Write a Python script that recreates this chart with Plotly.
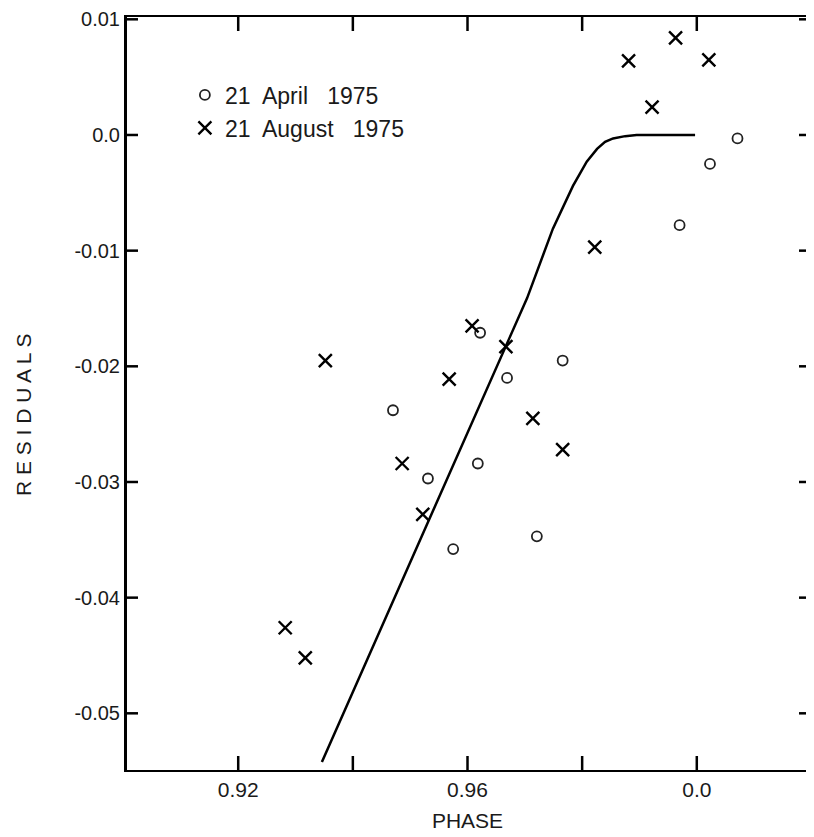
import plotly.graph_objects as go

# 21 April 1975 (open circles)
april_phase = [0.9470, 0.9531, 0.9575, 0.9618, 0.9622, 0.9669, 0.9721, 0.9766, 0.9970, 1.0023, 1.0071]
april_resid = [-0.0238, -0.0297, -0.0358, -0.0284, -0.0171, -0.0210, -0.0347, -0.0195, -0.0078, -0.0025, -0.0003]

# 21 August 1975 (crosses)
august_phase = [0.9282, 0.9317, 0.9352, 0.9486, 0.9522, 0.9568, 0.9608, 0.9667, 0.9714, 0.9766,
                0.9822, 0.9881, 0.9922, 0.9963, 1.0021]
august_resid = [-0.0426, -0.0452, -0.0195, -0.0284, -0.0328, -0.0211, -0.0165, -0.0183, -0.0245, -0.0272,
                -0.0097, 0.0064, 0.0024, 0.0084, 0.0065]

# model curve
model_phase = [0.9346, 0.9704, 0.9749, 0.9770, 0.9784, 0.9808, 0.9826, 0.9840, 0.9854, 0.9875, 0.9895, 0.9997]
model_resid = [-0.0542, -0.0141, -0.0081, -0.0058, -0.0044, -0.0023, -0.0012, -0.0006, -0.0003, -0.0001, 0.0, 0.0]

x_tickvals = [0.92, 0.94, 0.96, 0.98, 1.00]
x_ticktext = ["0.92", "", "0.96", "", "0.0"]
y_tickvals = [0.01, 0.0, -0.01, -0.02, -0.03, -0.04, -0.05]
y_ticktext = ["0.01", "0.0", "-0.01", "-0.02", "-0.03", "-0.04", "-0.05"]

FONT = "Liberation Sans"
INK = "#1a1a1a"

fig = go.Figure()
fig.add_trace(go.Scatter(
    x=model_phase, y=model_resid, mode="lines",
    line=dict(color="black", width=2.5),
    showlegend=False, hoverinfo="skip"))
fig.add_trace(go.Scatter(
    x=april_phase, y=april_resid, mode="markers", name="21  April   1975",
    marker=dict(symbol="circle-open", size=10, color="#222", line=dict(width=1.8))))
fig.add_trace(go.Scatter(
    x=august_phase, y=august_resid, mode="markers", name="21  August   1975",
    marker=dict(symbol="x-thin", size=13, color="black", line=dict(width=2.4, color="black"))))

# inward tick marks on all four sides, placed at the axis tick values
PLOT_W, PLOT_H = 681, 753
for v in x_tickvals:
    for y0, y1 in ((0, 14 / PLOT_H), (1, 1 - 14 / PLOT_H)):
        fig.add_shape(type="line", xref="x", yref="paper", x0=v, x1=v, y0=y0, y1=y1,
                      line=dict(color="black", width=2.5), layer="above")
for v in y_tickvals:
    for x0, x1 in ((0, 11 / PLOT_W), (1, 1 - 9 / PLOT_W)):
        fig.add_shape(type="line", xref="paper", yref="y", x0=x0, x1=x1, y0=v, y1=v,
                      line=dict(color="black", width=2.5), layer="above")

# the page body adds an 8 px margin, so the figure is sized/offset for that
fig.update_layout(
    width=806, height=829,
    margin=dict(l=119, r=6, t=9, b=67),
    paper_bgcolor="white", plot_bgcolor="white",
    font=dict(family=FONT, size=20, color=INK),
    legend=dict(x=0.085, y=0.925, xanchor="left", yanchor="top",
                bgcolor="rgba(0,0,0,0)", font=dict(size=23, family=FONT, color=INK),
                itemwidth=30, tracegroupgap=0),
    xaxis=dict(range=[0.9006, 1.0194], tickvals=x_tickvals, ticktext=x_ticktext,
               ticks="", showline=True, linecolor="black", linewidth=2, mirror=True,
               showgrid=False, zeroline=False, automargin=False,
               tickfont=dict(size=21, family=FONT, color=INK),
               title=dict(text="PHASE", font=dict(size=21, family=FONT, color=INK), standoff=13)),
    yaxis=dict(range=[-0.0549, 0.0102], tickvals=y_tickvals, ticktext=y_ticktext,
               ticks="", showline=True, linecolor="black", linewidth=3, mirror=True,
               showgrid=False, zeroline=False, automargin=False, ticklabeloverflow="allow",
               tickfont=dict(size=20, family=FONT, color=INK)),
    annotations=[dict(text="R E S I D U A L S", textangle=-90, xref="paper", yref="paper",
                      x=-0.152, y=0.472, xanchor="center", yanchor="middle", showarrow=False,
                      font=dict(size=21, family=FONT, color=INK))],
)

fig.write_html("out.html")
